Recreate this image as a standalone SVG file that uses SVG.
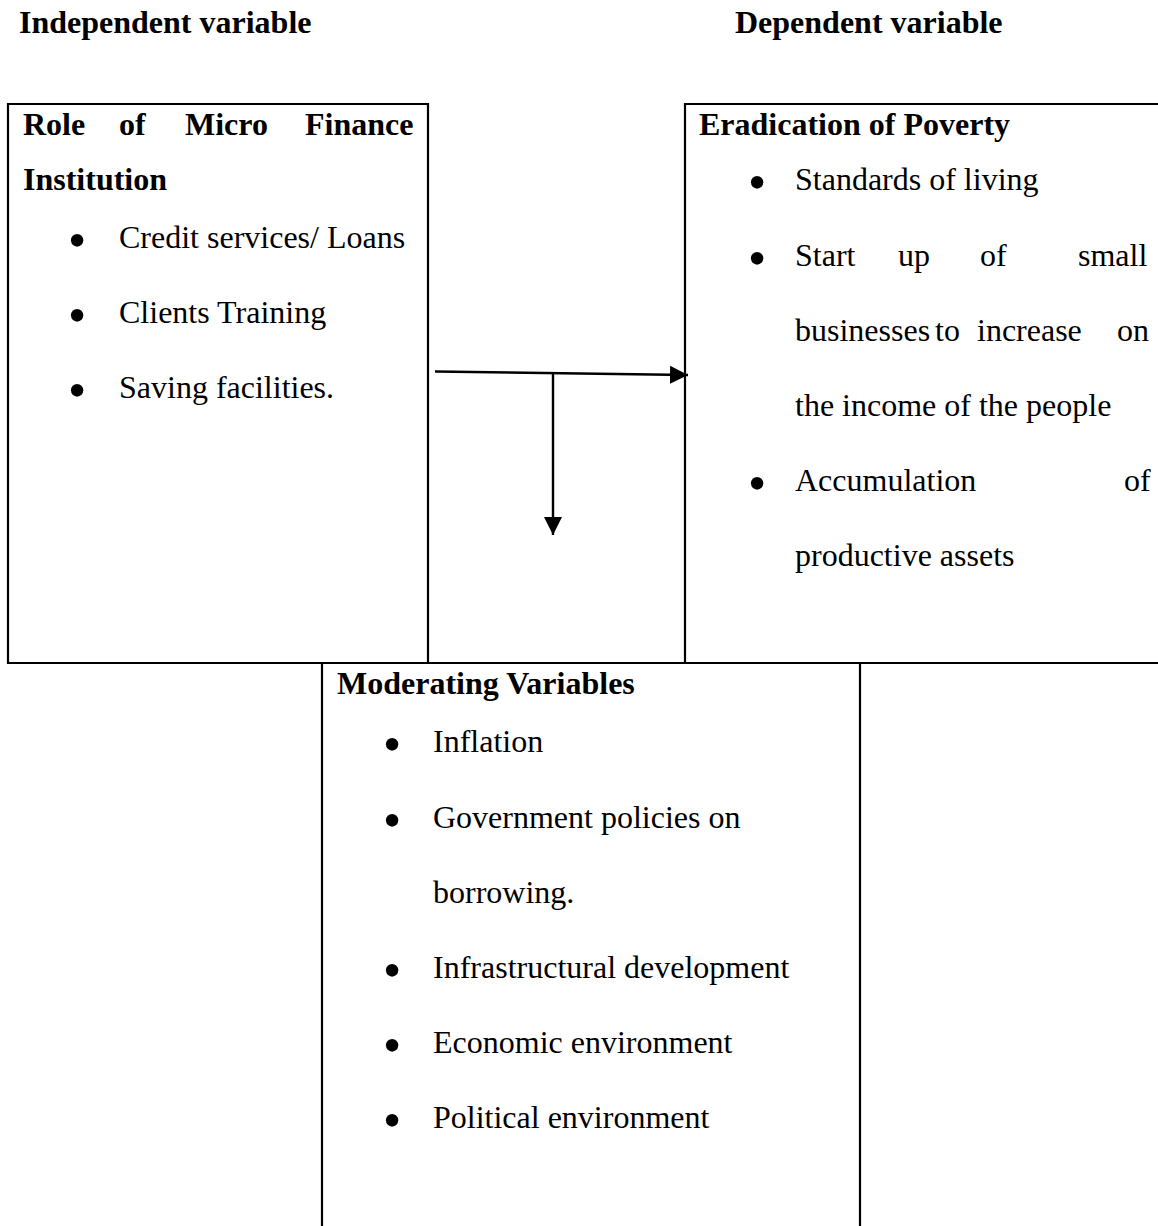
<svg xmlns="http://www.w3.org/2000/svg" width="1158" height="1226" viewBox="0 0 1158 1226">
<style>
text{font-family:"Liberation Serif","Times New Roman",serif;font-size:32px;fill:#000}
.b{font-weight:bold}
.bul{text-anchor:middle;font-size:52px}
.frame{fill:none;stroke:#000;stroke-width:2.2}
.conn{fill:none;stroke:#000;stroke-width:2.4}
</style>
<defs>
<marker id="ah" markerUnits="userSpaceOnUse" markerWidth="18" markerHeight="18" refX="16" refY="8" orient="auto" viewBox="0 0 16 16">
<path d="M0,0 L16,8 L0,16 Z" fill="#000"/>
</marker>
</defs>
<rect width="1158" height="1226" fill="#fff"/>
<g id="headers">
<text class="b" x="19" y="33">Independent variable</text>
<text class="b" x="735" y="33">Dependent variable</text>
</g>
<g id="node-independent">
<path class="frame" d="M8,104 H428 V663 H8 Z"/>
<text class="b" x="23" y="135">Role</text>
<text class="b" x="119" y="135">of</text>
<text class="b" x="185" y="135">Micro</text>
<text class="b" x="305" y="135">Finance</text>
<text class="b" x="23" y="190">Institution</text>
<text class="bul" x="77" y="258">•</text>
<text x="119" y="248">Credit services/ Loans</text>
<text class="bul" x="77" y="333">•</text>
<text x="119" y="323">Clients Training</text>
<text class="bul" x="77" y="408">•</text>
<text x="119" y="398">Saving facilities.</text>
</g>
<g id="node-dependent">
<path class="frame" d="M1158,104 H685 V663 H1158"/>
<text class="b" x="699" y="135">Eradication of Poverty</text>
<text class="bul" x="757" y="200">•</text>
<text x="795" y="190">Standards of living</text>
<text class="bul" x="757" y="276">•</text>
<text x="795" y="266">Start</text>
<text x="898" y="266">up</text>
<text x="980" y="266">of</text>
<text x="1078" y="266">small</text>
<text x="795" y="341">businesses</text>
<text x="935" y="341">to</text>
<text x="977" y="341">increase</text>
<text x="1117" y="341">on</text>
<text x="795" y="416">the income of the people</text>
<text class="bul" x="757" y="501">•</text>
<text x="795" y="491">Accumulation</text>
<text x="1124" y="491">of</text>
<text x="795" y="566">productive assets</text>
</g>
<g id="node-moderating">
<path class="frame" d="M322,1226 V663 H860 V1226"/>
<text class="b" x="337" y="694">Moderating Variables</text>
<text class="bul" x="392" y="762">•</text>
<text x="433" y="752">Inflation</text>
<text class="bul" x="392" y="838">•</text>
<text x="433" y="828">Government policies on</text>
<text x="433" y="903">borrowing.</text>
<text class="bul" x="392" y="988">•</text>
<text x="433" y="978">Infrastructural development</text>
<text class="bul" x="392" y="1063">•</text>
<text x="433" y="1053">Economic environment</text>
<text class="bul" x="392" y="1138">•</text>
<text x="433" y="1128">Political environment</text>
</g>
<g id="connectors">
<path class="conn" d="M435,371.5 L688,375" marker-end="url(#ah)"/>
<path class="conn" d="M553,374 V535" marker-end="url(#ah)"/>
</g>
</svg>
